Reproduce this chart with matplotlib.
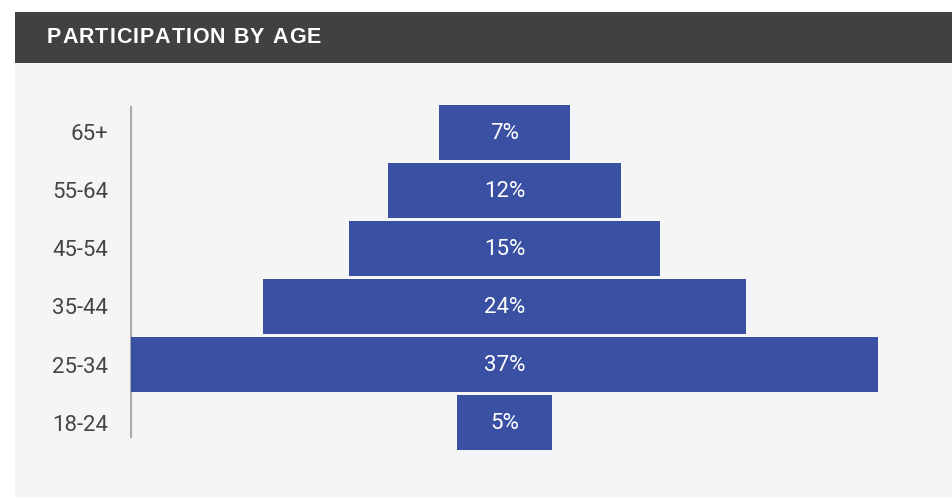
import matplotlib
matplotlib.use("Agg")
import matplotlib.pyplot as plt
from matplotlib.patches import Rectangle
from matplotlib.transforms import offset_copy

categories = ["18-24", "25-34", "35-44", "45-54", "55-64", "65+"]
values = [4.7, 37.0, 23.9, 15.4, 11.5, 6.5]
value_labels = ["5%", "37%", "24%", "15%", "12%", "7%"]
title = "PARTICIPATION BY AGE"

W, H = 952, 498
fig = plt.figure(figsize=(W / 100, H / 100), dpi=100)
fig.patch.set_facecolor("white")

def px(x0, y0, x1, y1):
    # pixel box (top-left origin) -> figure fraction [l, b, w, h]
    return [x0 / W, 1 - y1 / H, (x1 - x0) / W, (y1 - y0) / H]

# background panel and header
l, b, w, h = px(15, 63, 952, 497)
fig.patches.append(Rectangle((l, b), w, h, transform=fig.transFigure,
                             facecolor="#f5f5f5", edgecolor="none", zorder=-10))
l, b, w, h = px(15, 12, 952, 63)
fig.patches.append(Rectangle((l, b), w, h, transform=fig.transFigure,
                             facecolor="#414141", edgecolor="none", zorder=-10))

# title with letter spacing
fig.canvas.draw()
renderer = fig.canvas.get_renderer()
TS = 15.5
xpos = 47
for ch in title:
    t = fig.text(xpos / W, 1 - 43 / H, ch, color="white", fontsize=TS,
                 fontweight="bold", family="Liberation Sans", va="baseline", ha="left")
    if ch == " ":
        adv = TS * 100 / 72 * 0.278
    else:
        tt = fig.text(0, 0, ch + ch, fontsize=TS, fontweight="bold", family="Liberation Sans")
        adv = tt.get_window_extent(renderer).width - t.get_window_extent(renderer).width
        tt.remove()
    xpos += adv + 1.0

# main axes
ax = fig.add_axes(px(131, 107, 878, 437))
ax.set_facecolor("none")
half = max(values) / 2
ax.set_xlim(-half, half)
y = list(range(len(categories)))
ax.set_ylim(-0.25, len(categories) - 1 + 25.5 / 58)
bars = ax.barh(y, values, left=[-v / 2 for v in values], height=55 / 58,
               color="#3a50a3", edgecolor="none", clip_on=False, zorder=2)
lab_tr = offset_copy(ax.transData, fig=fig, x=0, y=-1.0, units="points")
for yi, lab in zip(y, value_labels):
    ax.text(0, yi, lab, color="white", fontsize=16, family="Roboto",
            ha="center", va="center", zorder=3, transform=lab_tr)

for s in ["top", "right", "bottom"]:
    ax.spines[s].set_visible(False)
ax.spines["left"].set_color("#aaaaaa")
ax.spines["left"].set_linewidth(1.5)
ax.spines["left"].set_zorder(1)
ax.set_xticks([])
ax.set_yticks(y)
ax.set_yticklabels(categories, fontsize=16, family="Roboto", color="#454545")
ax.tick_params(axis="y", length=0, pad=16.5)

fig.savefig("out.png", dpi=100, facecolor="white")
